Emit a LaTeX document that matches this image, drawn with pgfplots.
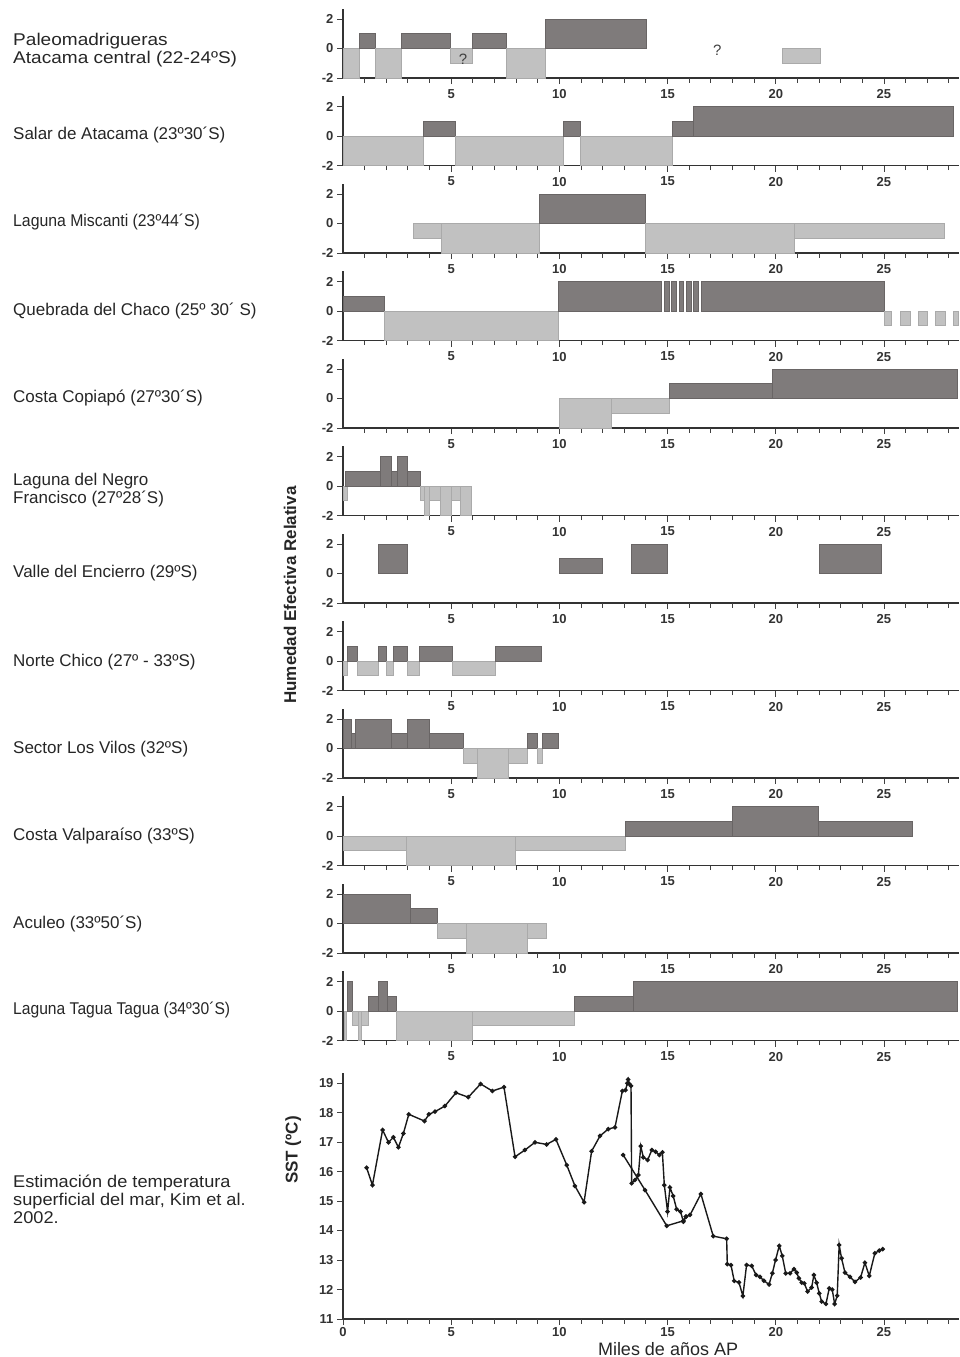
\documentclass[border=0pt]{standalone}
\usepackage{pgfplots}
\pgfplotsset{compat=1.18}
\usepackage{fontspec}
\setmainfont{Liberation Sans}
\definecolor{dk}{RGB}{127,123,123}
\definecolor{dkline}{RGB}{105,101,101}
\definecolor{lt}{RGB}{193,193,193}
\definecolor{ltline}{RGB}{170,170,170}
\newcommand{\Dk}[3]{\addplot[draw=dkline, fill=dk, line width=0.8pt] coordinates {(#1,0) (#1,#3) (#2,#3) (#2,0)} -- cycle;}
\newcommand{\Lt}[3]{\addplot[draw=ltline, fill=lt, line width=0.8pt] coordinates {(#1,0) (#1,#3) (#2,#3) (#2,0)} -- cycle;}
\pgfplotsset{
 base/.style={
  scale only axis, width=615.6pt,
  xmin=0, xmax=28.45,
  axis x line=bottom, axis y line=left,
  axis line style={-, line width=1.5pt, color=black!80},
  tick align=outside,
  major tick length=6pt,
  major tick style={line width=0.9pt, black!75},
  extra x ticks={1,2,3,4,6,7,8,9,11,12,13,14,16,17,18,19,21,22,23,24,26,27,28},
  extra x tick labels={},
  extra x tick style={major tick length=4.5pt, tick style={line width=0.7pt, black!50}},
  tick label style={font=\fontsize{13}{14}\selectfont\bfseries, text=black!80},
  /pgf/number format/assume math mode=true,
  clip=false,
  anchor=south west,
 },
 panel/.style={base, height=69.3pt, ymin=-2, ymax=2.7, xtick={5,10,15,20,25}, ytick={-2,0,2}, xticklabel style={yshift=-2pt}},
}
\begin{document}
\begin{tikzpicture}
\path[use as bounding box] (0pt,0pt) rectangle (959pt,-1357pt);
\tikzset{lab/.style={anchor=west, align=left, inner sep=0pt, font=\fontsize{17}{18}\selectfont, text=black!85}}
\node[lab, xscale=1.12] at (13pt,-50pt) {Paleomadrigueras\\Atacama central (22-24ºS)};
\node[lab] at (13pt,-135pt) {Salar de Atacama (23º30´S)};
\node[lab, xscale=0.93] at (13pt,-222pt) {Laguna Miscanti (23º44´S)};
\node[lab] at (13pt,-311pt) {Quebrada del Chaco (25º 30´ S)};
\node[lab] at (13pt,-398pt) {Costa Copiapó (27º30´S)};
\node[lab] at (13pt,-490pt) {Laguna del Negro\\Francisco (27º28´S)};
\node[lab] at (13pt,-573pt) {Valle del Encierro (29ºS)};
\node[lab] at (13pt,-662pt) {Norte Chico (27º - 33ºS)};
\node[lab] at (13pt,-749pt) {Sector Los Vilos (32ºS)};
\node[lab] at (13pt,-836pt) {Costa Valparaíso (33ºS)};
\node[lab] at (13pt,-924pt) {Aculeo (33º50´S)};
\node[lab, xscale=0.92] at (13pt,-1010pt) {Laguna Tagua Tagua (34º30´S)};
\node[lab, xscale=1.07] at (13pt,-1199pt) {Estimación de temperatura\\superficial del mar, Kim et al.\\2002.};
\node[rotate=90, font=\fontsize{17}{18}\selectfont\bfseries, text=black!85] at (290pt,-595pt) {Humedad Efectiva Relativa};

% 1 Paleomadrigueras
\begin{axis}[panel, at={(343pt,-78pt)}]
\Lt{0}{0.74}{-2}
\Dk{0.74}{1.49}{1}
\Lt{1.49}{2.72}{-2}
\Dk{2.72}{4.95}{1}
\Lt{4.95}{6.0}{-1}
\Dk{6.0}{7.54}{1}
\Lt{7.54}{9.37}{-2}
\Dk{9.37}{14.0}{2}
\Lt{20.3}{22.07}{-1}
\node[font=\fontsize{15}{16}\selectfont, text=black!75] at (axis cs:5.55,-0.7) {?};
\node[font=\fontsize{15}{16}\selectfont, text=black!75] at (axis cs:17.3,-0.1) {?};
\end{axis}
% 2 Salar de Atacama
\begin{axis}[panel, at={(343pt,-165.5pt)}]
\Lt{0}{3.72}{-2}
\Dk{3.72}{5.2}{1}
\Lt{5.2}{10.2}{-2}
\Dk{10.2}{10.97}{1}
\Lt{10.97}{15.2}{-2}
\Dk{15.2}{16.2}{1}
\Dk{16.2}{28.23}{2}
\end{axis}
% 3 Laguna Miscanti
\begin{axis}[panel, at={(343pt,-253pt)}]
\Lt{3.26}{4.56}{-1}
\Lt{4.56}{9.07}{-2}
\Dk{9.07}{13.97}{2}
\Lt{13.97}{20.86}{-2}
\Lt{20.86}{27.8}{-1}
\end{axis}
% 4 Quebrada del Chaco
\begin{axis}[panel, at={(343pt,-340.5pt)}]
\Dk{0}{1.92}{1}
\Lt{1.92}{9.96}{-2}
\Dk{9.96}{14.73}{2}
\Dk{14.85}{15.07}{2}
\Dk{15.19}{15.41}{2}
\Dk{15.53}{15.75}{2}
\Dk{15.87}{16.09}{2}
\Dk{16.21}{16.43}{2}
\Dk{16.55}{25.0}{2}
\Lt{25.0}{25.35}{-1}
\Lt{25.75}{26.2}{-1}
\Lt{26.6}{27.0}{-1}
\Lt{27.4}{27.85}{-1}
\Lt{28.23}{28.45}{-1}
\end{axis}
% 5 Costa Copiapo
\begin{axis}[panel, at={(343pt,-428pt)}]
\Lt{9.98}{12.4}{-2}
\Lt{12.4}{15.08}{-1}
\Dk{15.08}{19.83}{1}
\Dk{19.83}{28.4}{2}
\end{axis}
% 6 Laguna del Negro Francisco
\begin{axis}[panel, at={(343pt,-515.5pt)}]
\Lt{0}{0.19}{-1}
\Dk{0.1}{1.73}{1}
\Dk{1.73}{2.23}{2}
\Dk{2.23}{2.51}{1}
\Dk{2.51}{2.98}{2}
\Dk{2.98}{3.59}{1}
\Lt{3.59}{3.78}{-1}
\Lt{3.78}{4.0}{-2}
\Lt{4.0}{4.49}{-1}
\Lt{4.49}{4.99}{-2}
\Lt{4.99}{5.42}{-1}
\Lt{5.42}{5.92}{-2}
\end{axis}
% 7 Valle del Encierro
\begin{axis}[panel, at={(343pt,-603pt)}]
\Dk{1.64}{2.96}{2}
\Dk{9.98}{12.01}{1}
\Dk{13.31}{15.01}{2}
\Dk{22.03}{24.88}{2}
\end{axis}
% 8 Norte Chico
\begin{axis}[panel, at={(343pt,-690.5pt)}]
\Lt{0}{0.19}{-1}
\Dk{0.19}{0.65}{1}
\Lt{0.65}{1.64}{-1}
\Dk{1.64}{2.01}{1}
\Lt{2.01}{2.33}{-1}
\Dk{2.33}{2.98}{1}
\Lt{2.98}{3.54}{-1}
\Dk{3.54}{5.07}{1}
\Lt{5.07}{7.06}{-1}
\Dk{7.06}{9.18}{1}
\end{axis}
% 9 Sector Los Vilos
\begin{axis}[panel, at={(343pt,-778pt)}]
\Dk{0}{0.39}{2}
\Dk{0.39}{0.58}{1}
\Dk{0.58}{2.23}{2}
\Dk{2.23}{2.98}{1}
\Dk{2.98}{3.97}{2}
\Dk{3.97}{5.55}{1}
\Lt{5.55}{6.2}{-1}
\Lt{6.2}{7.64}{-2}
\Lt{7.64}{8.51}{-1}
\Dk{8.51}{8.99}{1}
\Lt{8.99}{9.22}{-1}
\Dk{9.22}{9.96}{1}
\end{axis}
% 10 Costa Valparaiso
\begin{axis}[panel, at={(343pt,-865.5pt)}]
\Lt{0}{2.94}{-1}
\Lt{2.94}{7.97}{-2}
\Lt{7.97}{13.04}{-1}
\Dk{13.04}{18.0}{1}
\Dk{18.0}{21.99}{2}
\Dk{21.99}{26.3}{1}
\end{axis}
% 11 Aculeo
\begin{axis}[panel, at={(343pt,-953pt)}]
\Dk{0}{3.11}{2}
\Dk{3.11}{4.34}{1}
\Lt{4.34}{5.68}{-1}
\Lt{5.68}{8.53}{-2}
\Lt{8.53}{9.42}{-1}
\end{axis}
% 12 Laguna Tagua Tagua
\begin{axis}[panel, at={(343pt,-1040.5pt)}]
\Lt{0.05}{0.15}{-2}
\Dk{0.19}{0.43}{2}
\Lt{0.43}{0.71}{-1}
\Lt{0.71}{0.84}{-2}
\Lt{0.84}{1.17}{-1}
\Dk{1.17}{1.64}{1}
\Dk{1.64}{2.05}{2}
\Dk{2.05}{2.48}{1}
\Lt{2.48}{5.98}{-2}
\Lt{5.98}{10.71}{-1}
\Dk{10.71}{13.43}{1}
\Dk{13.43}{28.4}{2}
\end{axis}
% SST
\begin{axis}[base, height=246.3pt, ymin=11, ymax=19.35,
  at={(343pt,-1319pt)},
  xtick={0,5,10,15,20,25}, ytick={11,12,...,19},
  xticklabel style={yshift=1pt},
  xlabel={Miles de años AP},
  xlabel style={font=\fontsize{18}{19}\selectfont, text=black!85, at={(axis description cs:0.528,0)}, anchor=center, yshift=-30pt},
  ylabel={SST (ºC)},
  ylabel style={font=\fontsize{17}{18}\selectfont\bfseries, text=black!85, at={(axis description cs:-0.081,0.686)}, anchor=center},
]
\addplot[black!90, line width=1.4pt, mark=*, mark size=1.5pt] coordinates {
(1.09,16.13)(1.36,15.54)(1.83,17.41)(2.10,16.99)(2.33,17.16)(2.56,16.82)(2.79,17.29)(3.04,17.94)(3.77,17.71)(3.97,17.94)(4.25,18.03)(4.71,18.22)(5.22,18.67)(5.79,18.52)(6.36,18.97)(6.90,18.73)(7.44,18.86)(7.95,16.50)(8.41,16.73)(8.87,16.99)(9.41,16.92)(9.84,17.09)(10.34,16.22)(10.72,15.51)(11.14,14.96)(11.49,16.69)(11.88,17.21)(12.26,17.44)(12.57,17.50)(12.91,18.73)(13.06,18.76)(13.14,18.99)(13.18,19.12)(13.23,18.97)(13.31,18.90)(13.34,15.60)(13.49,15.71)(13.65,15.88)(13.76,16.86)(13.88,16.48)(14.08,16.39)(14.27,16.73)(14.45,16.67)(14.62,16.56)(14.76,16.65)(14.85,15.54)(15.0,14.64)(15.11,15.46)(15.26,15.17)(15.42,14.72)(15.60,14.64)(15.73,14.30)(15.85,14.47)(16.04,14.53)(16.54,15.24)(17.11,13.81)(17.73,13.72)(17.76,12.86)(17.93,12.83)(18.08,12.29)(18.30,12.24)(18.48,11.78)(18.65,12.83)(18.89,12.80)(19.09,12.49)(19.27,12.43)(19.45,12.30)(19.69,12.17)(19.84,12.55)(19.99,13.0)(20.16,13.48)(20.30,13.14)(20.46,12.55)(20.66,12.55)(20.84,12.69)(20.97,12.57)(21.07,12.38)(21.20,12.23)(21.32,12.21)(21.47,11.93)(21.66,12.07)(21.76,12.49)(21.89,12.23)(22.01,11.87)(22.12,11.59)(22.32,11.51)(22.47,12.04)(22.61,12.00)(22.72,11.51)(22.84,11.79)(22.93,13.51)(23.04,13.06)(23.20,12.57)(23.43,12.43)(23.66,12.26)(23.92,12.41)(24.12,12.91)(24.32,12.46)(24.58,13.23)(24.78,13.32)(24.94,13.37)
};
\addplot[black!90, line width=1.4pt, mark=*, mark size=1.5pt] coordinates {
(12.95,16.56)(13.96,15.37)(14.96,14.16)(15.73,14.33)(15.85,14.47)
};
\end{axis}
\end{tikzpicture}
\end{document}
